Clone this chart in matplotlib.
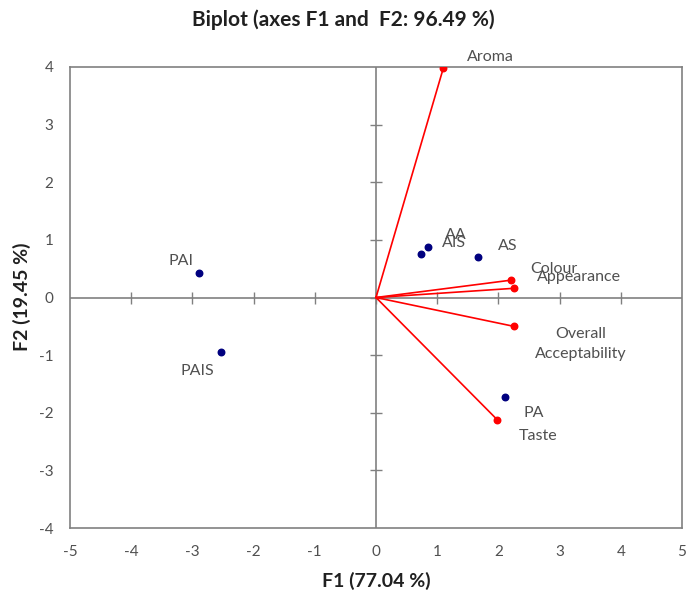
import matplotlib
matplotlib.use("Agg")
import matplotlib.pyplot as plt

# Variables (red vectors)
var_names = ["Aroma", "Colour", "Appearance", "Overall\nAcceptability", "Taste"]
var_f1 = [1.10, 2.20, 2.26, 2.25, 1.98]
var_f2 = [3.98, 0.30, 0.16, -0.50, -2.12]

# Observations (blue points)
obs_names = ["PAI", "PAIS", "AA", "AIS", "AS", "PA"]
obs_f1 = [-2.89, -2.54, 0.85, 0.74, 1.66, 2.10]
obs_f2 = [0.43, -0.95, 0.87, 0.76, 0.71, -1.72]

xticks = [-5, -4, -3, -2, -1, 0, 1, 2, 3, 4, 5]
yticks = [-4, -3, -2, -1, 0, 1, 2, 3, 4]

plt.rcParams['font.family'] = ['Lato', 'DejaVu Sans']

fig = plt.figure(figsize=(6.95, 5.93), dpi=100)
ax = fig.add_axes([70/695, 65/593, 612/695, 461/593])
ax.set_xlim(-5, 5)
ax.set_ylim(-4, 4)

gray = "#808080"
for s in ax.spines.values():
    s.set_color(gray)
    s.set_linewidth(1.2)

ax.axhline(0, color=gray, lw=1.2, zorder=1)
ax.axvline(0, color=gray, lw=1.2, zorder=1)
# tick marks crossing the zero lines
ax.plot([t for t in xticks if t not in (-5, 5)], [0]*(len(xticks)-2), ls='none',
        marker='|', ms=9, mew=1.0, color=gray, zorder=1)
ax.plot([0]*(len(yticks)-2), [t for t in yticks if t not in (-4, 4)], ls='none',
        marker='_', ms=9, mew=1.0, color=gray, zorder=1)

ax.set_xticks(xticks)
ax.set_yticks(yticks)
ax.tick_params(length=0, labelsize=11, labelcolor="#505050", pad=12)
ax.set_xticklabels([str(t) for t in xticks])
ax.set_yticklabels([str(t) for t in yticks])

# vectors
for x, y in zip(var_f1, var_f2):
    ax.plot([0, x], [0, y], color="#FF0000", lw=1.2, zorder=2)
ax.scatter(var_f1, var_f2, color="#FF0000", s=22, zorder=3)
ax.scatter(obs_f1, obs_f2, color="#00007F", s=22, zorder=3)

lab_kw = dict(fontsize=11.5, color="#505050", ha='center', va='center', zorder=4)
var_off = [(0.77, 0.2), (0.70, 0.20), (1.05, 0.20), (1.09, -0.31), (0.66, -0.29)]
for n, x, y, (dx, dy) in zip(var_names, var_f1, var_f2, var_off):
    ax.text(x + dx, y + dy, n, linespacing=1.55, **lab_kw)
obs_off = [(-0.29, 0.2), (-0.38, -0.32), (0.46, 0.21), (0.54, 0.19), (0.50, 0.19), (0.47, -0.29)]
for n, x, y, (dx, dy) in zip(obs_names, obs_f1, obs_f2, obs_off):
    ax.text(x + dx, y + dy, n, **lab_kw)

fig.text(343/695, 1 - 20/593, "Biplot (axes F1 and  F2: 96.49 %)", ha='center', va='center',
         fontsize=15, fontweight='bold', color="#202020")
fig.text(376/695, 1 - 581/593, "F1 (77.04 %)", ha='center', va='center',
         fontsize=14, fontweight='bold', color="#202020")
fig.text(22/695, 1 - 297/593, "F2 (19.45 %)", ha='center', va='center', rotation=90,
         fontsize=14, fontweight='bold', color="#202020")

fig.savefig("out.png", dpi=100, facecolor="white")
